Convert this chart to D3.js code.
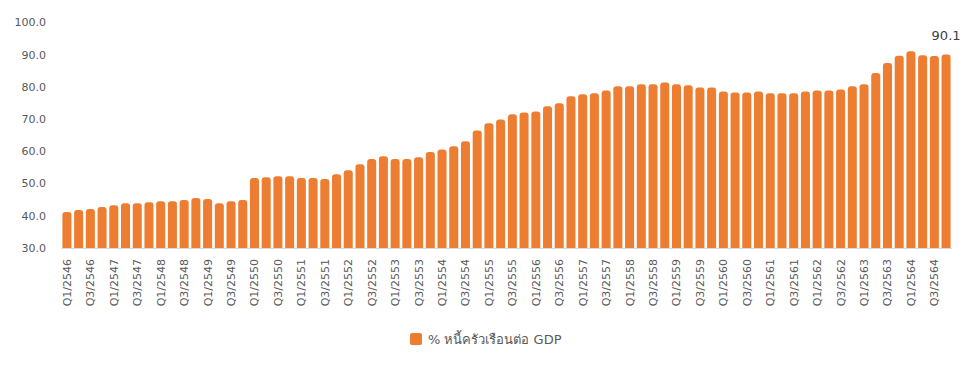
<!DOCTYPE html>
<html>
<head>
<meta charset="utf-8">
<script src="https://cdn.jsdelivr.net/npm/d3@7"></script>
<style>
  body { margin: 0; background: #fff; }
  svg text { font-family: "DejaVu Sans", "Noto Sans", sans-serif; }
</style>
</head>
<body>
<svg width="975" height="371"></svg>
<script>
// quarters Q1/2546 .. Q4/2564
const years = d3.range(2546, 2565);
const quarters = ["Q1", "Q2", "Q3", "Q4"];
const categories = years.flatMap(y => quarters.map(q => q + "/" + y));

// % household debt to GDP
const values = [
  41.2, 41.8, 42.1, 42.7, 43.3, 43.9, 43.9, 44.2, 44.5, 44.5,
  44.9, 45.5, 45.2, 43.9, 44.5, 44.9, 51.7, 52.0, 52.3, 52.3,
  51.7, 51.7, 51.4, 52.9, 54.1, 56.0, 57.6, 58.5, 57.6, 57.6,
  58.2, 59.8, 60.6, 61.6, 63.1, 66.5, 68.7, 69.9, 71.5, 72.1,
  72.4, 74.0, 74.9, 77.1, 77.7, 78.0, 78.9, 80.2, 80.2, 80.8,
  80.8, 81.4, 80.8, 80.5, 79.8, 79.8, 78.6, 78.3, 78.3, 78.6,
  78.0, 78.0, 78.0, 78.6, 78.9, 78.9, 79.2, 80.2, 80.8, 84.3,
  87.4, 89.7, 91.1, 89.8, 89.6, 90.1
];

const yTicks = [30, 40, 50, 60, 70, 80, 90, 100];
const seriesName = "% หนี้ครัวเรือนต่อ GDP";
const color = "#ED7D31";

const data = categories.map((c, i) => ({ cat: c, value: values[i] }));

const svg = d3.select("svg");

const x = d3.scaleBand().domain(categories).range([61, 952]).paddingInner(0.23).paddingOuter(0.12);
const y = d3.scaleLinear().domain([30, 100]).range([248, 22.5]);

// y labels (no axis line)
svg.append("g")
  .selectAll("text")
  .data(yTicks)
  .join("text")
  .attr("x", 46)
  .attr("y", d => y(d))
  .attr("dy", "0.35em")
  .attr("text-anchor", "end")
  .attr("font-size", 11)
  .attr("fill", "#595959")
  .text(d => d.toFixed(1));

// bars with rounded tops
const r = 3;
svg.append("g")
  .selectAll("path")
  .data(data)
  .join("path")
  .attr("fill", color)
  .attr("d", d => {
    const x0 = x(d.cat), w = x.bandwidth(), top = y(d.value), bot = y(30);
    return `M${x0},${bot}V${top + r}Q${x0},${top} ${x0 + r},${top}H${x0 + w - r}Q${x0 + w},${top} ${x0 + w},${top + r}V${bot}Z`;
  });

// x axis line
svg.append("line")
  .attr("x1", 61).attr("x2", 952)
  .attr("y1", 248.5).attr("y2", 248.5)
  .attr("stroke", "#d9d9d9").attr("stroke-width", 1);

// x labels, every second quarter
svg.append("g")
  .selectAll("text")
  .data(categories.filter((c, i) => i % 2 === 0))
  .join("text")
  .attr("transform", d => `translate(${x(d) + x.bandwidth() / 2 + 4},259) rotate(-90)`)
  .attr("text-anchor", "end")
  .attr("font-size", 11)
  .attr("fill", "#595959")
  .text(d => d);

// value label on last bar
const last = data[data.length - 1];
svg.append("text")
  .attr("x", x(last.cat) + x.bandwidth() / 2)
  .attr("y", y(last.value) - 14)
  .attr("text-anchor", "middle")
  .attr("font-size", 13)
  .attr("fill", "#404040")
  .text(last.value.toFixed(1));

// legend
const lg = svg.append("g").attr("transform", "translate(410,333)");
lg.append("rect").attr("width", 12).attr("height", 12).attr("rx", 2).attr("fill", color);
lg.append("text")
  .attr("x", 18).attr("y", 6).attr("dy", "0.35em")
  .attr("font-size", 13)
  .attr("fill", "#595959")
  .text(seriesName);
</script>
</body>
</html>
